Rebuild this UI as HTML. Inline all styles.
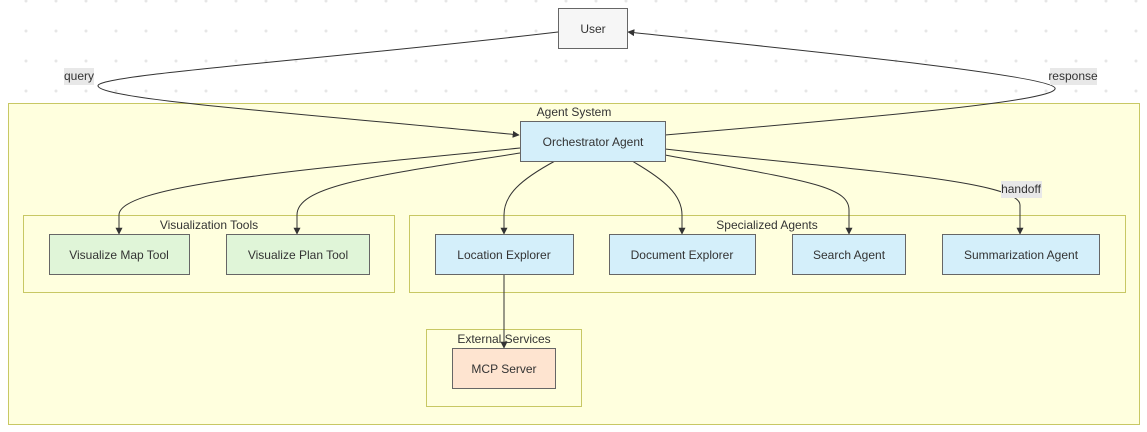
<!DOCTYPE html>
<html><head><meta charset="utf-8"><style>
html,body{margin:0;padding:0;background:#fff;}
body{width:1147px;height:427px;overflow:hidden;font-family:"Liberation Sans",sans-serif;}
</style></head><body>
<svg width="1147" height="427" viewBox="0 0 1147 427" xmlns="http://www.w3.org/2000/svg" font-family="Liberation Sans, sans-serif" font-size="12">
<defs>
<pattern id="dots" x="11" y="16" width="30" height="30" patternUnits="userSpaceOnUse"><circle cx="15" cy="15" r="1.5" fill="#e6e6e6"/></pattern>
<marker id="ah" viewBox="0 0 10 10" refX="9" refY="5" markerWidth="7" markerHeight="7" orient="auto"><path d="M0,0L10,5L0,10z" fill="#333"/></marker>
</defs>
<rect width="1147" height="427" fill="url(#dots)"/>
<rect x="8.5" y="103.5" width="1131" height="321" fill="#ffffde" stroke="#c8c864"/>
<text x="574" y="116" text-anchor="middle" fill="#333">Agent System</text>
<rect x="23.5" y="215.5" width="371" height="77" fill="#ffffde" stroke="#c8c864"/>
<text x="209" y="229" text-anchor="middle" fill="#333">Visualization Tools</text>
<rect x="409.5" y="215.5" width="716" height="77" fill="#ffffde" stroke="#c8c864"/>
<text x="767" y="229" text-anchor="middle" fill="#333">Specialized Agents</text>
<rect x="426.5" y="329.5" width="155" height="77" fill="#ffffde" stroke="#c8c864"/>
<text x="504" y="343" text-anchor="middle" fill="#333">External Services</text>
<g fill="none" stroke="#333" stroke-width="1">
<path d="M558,32 C320,60 95,75 98,86 C101,100 320,115 519,135" marker-end="url(#ah)"/>
<path d="M665,135 C900,115 1060,100 1055,88 C1050,75 800,50 628,32" marker-end="url(#ah)"/>
<path d="M520,148 C300,170 119,185 119,215 L119,234" marker-end="url(#ah)"/>
<path d="M520,153 C380,175 297,185 297,215 L297,234" marker-end="url(#ah)"/>
<path d="M555,161 C520,180 504,195 504,215 L504,234" marker-end="url(#ah)"/>
<path d="M632,161 C665,180 682,195 682,215 L682,234" marker-end="url(#ah)"/>
<path d="M665,155 C800,180 849,185 849,210 L849,234" marker-end="url(#ah)"/>
<path d="M665,149 C850,170 1020,180 1020,205 L1020,234" marker-end="url(#ah)"/>
<path d="M504,274 L504,348" marker-end="url(#ah)"/>
</g>
<rect x="64" y="68" width="30" height="17" fill="#e8e8e8"/><text x="79" y="80" text-anchor="middle" fill="#333">query</text>
<rect x="1050" y="68" width="47" height="17" fill="#e8e8e8"/><text x="1073" y="80" text-anchor="middle" fill="#333">response</text>
<rect x="1001" y="181" width="41" height="17" fill="#e8e8e8"/><text x="1021" y="193" text-anchor="middle" fill="#333">handoff</text>
<g stroke="#666" stroke-width="1">
<rect x="558.5" y="8.5" width="69" height="40" fill="#f6f6f6"/>
<rect x="520.5" y="121.5" width="145" height="40" fill="#d4effa"/>
<rect x="49.5" y="234.5" width="140" height="40" fill="#e0f5d8"/>
<rect x="226.5" y="234.5" width="143" height="40" fill="#e0f5d8"/>
<rect x="435.5" y="234.5" width="138" height="40" fill="#d4effa"/>
<rect x="609.5" y="234.5" width="146" height="40" fill="#d4effa"/>
<rect x="792.5" y="234.5" width="113" height="40" fill="#d4effa"/>
<rect x="942.5" y="234.5" width="157" height="40" fill="#d4effa"/>
<rect x="452.5" y="348.5" width="103" height="40" fill="#fee4d0"/>
</g>
<g fill="#333" text-anchor="middle">
<text x="593" y="33">User</text>
<text x="593" y="146">Orchestrator Agent</text>
<text x="119" y="259">Visualize Map Tool</text>
<text x="298" y="259">Visualize Plan Tool</text>
<text x="504" y="259">Location Explorer</text>
<text x="682" y="259">Document Explorer</text>
<text x="849" y="259">Search Agent</text>
<text x="1021" y="259">Summarization Agent</text>
<text x="504" y="373">MCP Server</text>
</g>
</svg>
</body></html>
